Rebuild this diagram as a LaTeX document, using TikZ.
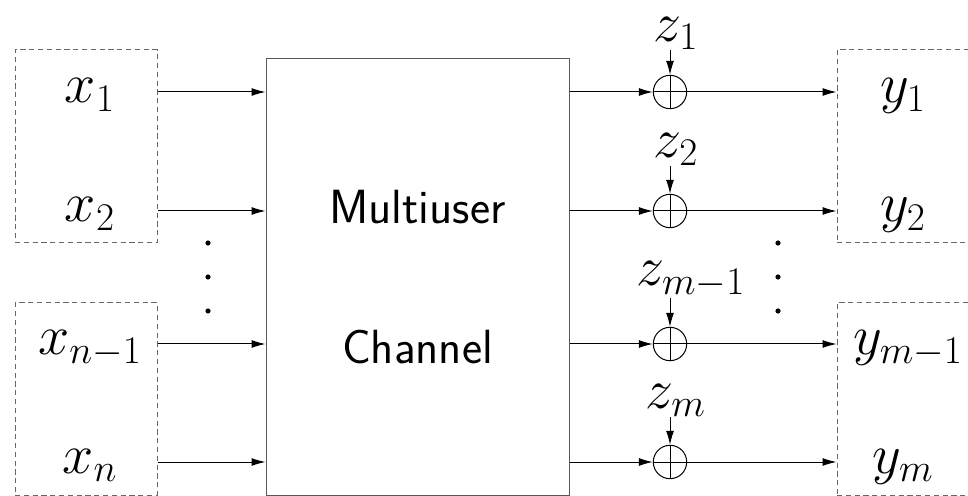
\RequirePackage{fix-cm}
\documentclass[tikz,border=0pt]{standalone}
\usetikzlibrary{arrows.meta,positioning,calc}

\tikzset{
  sig/.style={-{Latex[length=7pt,width=4pt]}, line width=0.5pt},
  group/.style={draw=black!60, dash pattern=on 2.6pt off 1.8pt, line width=0.5pt, inner sep=0pt},
  port/.style={font=\fontsize{28}{34}\selectfont, text height=14pt, text depth=3pt, inner sep=0pt},
  noise/.style={font=\fontsize{28}{34}\selectfont, anchor=south, inner sep=0pt},
  adder/.style={circle, draw, line width=0.5pt, minimum size=16.7pt, inner sep=0pt,
    path picture={\draw[line width=0.5pt] (path picture bounding box.north) -- (path picture bounding box.south)
      (path picture bounding box.west) -- (path picture bounding box.east);}}
}

\begin{document}
\begin{tikzpicture}[x=0.5pt, y=-0.5pt]
        \useasboundingbox (0,0) rectangle (968,496);
        % Input groups
        \node[group, minimum width=71pt, minimum height=96.5pt] (inA) at (86,146.5) {};
        \node[group, minimum width=71pt, minimum height=96pt] (inB) at (86,399) {};
        % Output groups
        \node[group, minimum width=81.5pt, minimum height=96.5pt] (outA) at (918.5,146.5) {};
        \node[group, minimum width=81.5pt, minimum height=96pt] (outB) at (918.5,399) {};

        % Channel
        \node[draw=black!65, line width=0.5pt, minimum width=151.5pt, minimum height=218pt, align=center,
              font=\sffamily\fontsize{24}{70}\selectfont] (chan) at (417.5,277) {Multiuser\\Channel};

        % Inputs
        \node[port] (x1) at (90,92) {$x_1$};
        \node[port] (x2) at (90,211) {$x_2$};
        \node[port] (x3) at (90,344) {$x_{n-1}$};
        \node[port] (x4) at (90,462) {$x_n$};
        \draw[sig] (inA.east |- x1) -- (chan.west |- x1);
        \draw[sig] (inA.east |- x2) -- (chan.west |- x2);
        \draw[sig] (inB.east |- x3) -- (chan.west |- x3);
        \draw[sig] (inB.east |- x4) -- (chan.west |- x4);

        % Adders
        \node[adder] (a1) at (670,92) {};
        \node[adder] (a2) at (670,211) {};
        \node[adder] (a3) at (670,344) {};
        \node[adder] (a4) at (670,462) {};
        \draw[sig] (chan.east |- a1) -- (a1);
        \draw[sig] (chan.east |- a2) -- (a2);
        \draw[sig] (chan.east |- a3) -- (a3);
        \draw[sig] (chan.east |- a4) -- (a4);

        % Noise
        \node[noise] (z1) at (676,50) {$z_1$};
        \node[noise] (z2) at (676,166) {$z_2$};
        \node[noise] (z3) at (691,298) {$z_{m-1}$};
        \node[noise] (z4) at (676,417) {$z_m$};
        \draw[sig] (z1.south -| a1) -- (a1);
        \draw[sig] (z2.south -| a2) -- (a2);
        \draw[sig] (z3.south -| a3) -- (a3);
        \draw[sig] (z4.south -| a4) -- (a4);

        % Outputs
        \node[port] (y1) at (903,92) {$y_1$};
        \node[port] (y2) at (903,211) {$y_2$};
        \node[port] (y3) at (908,344) {$y_{m-1}$};
        \node[port] (y4) at (903,462) {$y_m$};
        \draw[sig] (a1) -- (outA.west |- a1);
        \draw[sig] (a2) -- (outA.west |- a2);
        \draw[sig] (a3) -- (outB.west |- a3);
        \draw[sig] (a4) -- (outB.west |- a4);

        % Dots
        \fill (208,243) circle (1.3pt) (208,277) circle (1.3pt) (208,311) circle (1.3pt);
        \fill (778,243) circle (1.3pt) (778,277) circle (1.3pt) (778,311) circle (1.3pt);
    \end{tikzpicture}
\end{document}
